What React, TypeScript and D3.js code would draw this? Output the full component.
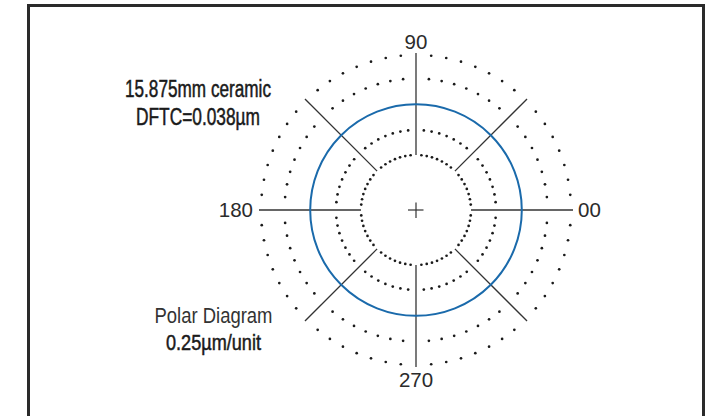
import React from "react";
import * as d3 from "d3";

// ---- data ----
const gridRings: number[] = [0, 1, 3, 4]; // dotted reference rings (units)
const traceValue: number = 2; // measured profile (units) – near-perfect circle
const spokeAngles: number[] = [0, 45, 90, 135, 180, 225, 270, 315];
const axisLabels: string[] = ["00", "90", "180", "270"];
const axisLabelAngles: number[] = [0, 90, 180, 270];
const titleLines: string[] = ["15.875mm ceramic", "DFTC=0.038µm"];
const scaleLines: string[] = ["Polar Diagram", "0.25µm/unit"];

const W = 715;
const H = 416;
const cx = 416;
const cy = 210;
const DOTS_PER_RING = 64;

const FONT = "'Liberation Sans Narrow', 'Arial Narrow', 'Liberation Sans', Arial, sans-serif";

export default function App() {
  const r = d3.scaleLinear().domain([0, 4]).range([55, 155]);
  const toRad = (deg: number) => (deg * Math.PI) / 180;
  const px = (deg: number, rad: number) => cx + rad * Math.cos(toRad(deg));
  const py = (deg: number, rad: number) => cy - rad * Math.sin(toRad(deg));

  const ringAdjust: Record<number, number> = { 0: 0, 1: 0, 3: 1.5, 4: 0 };

  const dots: { x: number; y: number; k: string }[] = [];
  gridRings.forEach((v) => {
    const rr = r(v) + (ringAdjust[v] || 0);
    d3.range(DOTS_PER_RING).forEach((i) => {
      if (i % 8 === 0) return; // skip where spokes pass
      const a = (i * 360) / DOTS_PER_RING;
      dots.push({ x: px(a, rr), y: py(a, rr), k: `${v}-${i}` });
    });
  });

  const labelPlacement: Record<number, { dx: number; dy: number; anchor: string }> = {
    0: { dx: 162, dy: 7, anchor: "start" },
    90: { dx: 0, dy: -161, anchor: "middle" },
    180: { dx: -163, dy: 7, anchor: "end" },
    270: { dx: 0, dy: 177, anchor: "middle" },
  };

  const titleWidths = [146, 124];
  const scaleWidths = [118, 95];

  return (
    <svg
      width={W}
      height={H}
      style={{ position: "absolute", left: 0, top: 0, background: "#fff" }}
    >
      <rect x={0} y={0} width={W} height={H} fill="#fff" />
      {/* frame */}
      <path
        d={`M28.5,${H + 5} L28.5,5.5 L703.5,5.5 L703.5,${H + 5}`}
        fill="none"
        stroke="#2a2a2a"
        strokeWidth={3}
      />

      {/* dotted rings */}
      {dots.map((d) => (
        <circle key={d.k} cx={d.x} cy={d.y} r={1.35} fill="#1a1a1a" />
      ))}

      {/* spokes */}
      {spokeAngles.map((a) => (
        <line
          key={a}
          x1={px(a, r(0))}
          y1={py(a, r(0))}
          x2={px(a, r(4) + 2)}
          y2={py(a, r(4) + 2)}
          stroke="#333"
          strokeWidth={1.3}
        />
      ))}

      {/* measured trace */}
      <circle
        cx={cx}
        cy={cy}
        r={r(traceValue) + 0.8}
        fill="none"
        stroke="#1a6aab"
        strokeWidth={2}
      />

      {/* centre cross */}
      <line x1={cx - 8} y1={cy} x2={cx + 7.5} y2={cy} stroke="#333" strokeWidth={1.2} />
      <line x1={cx} y1={cy - 7.5} x2={cx} y2={cy + 8} stroke="#333" strokeWidth={1.2} />

      {/* axis labels */}
      {axisLabels.map((t, i) => {
        const a = axisLabelAngles[i];
        const p = labelPlacement[a];
        return (
          <text
            key={t}
            x={cx + p.dx}
            y={cy + p.dy}
            textAnchor={p.anchor as any}
            fontFamily={FONT}
            fontSize={20.5}
            fill="#2b2b2b"
          >
            {t}
          </text>
        );
      })}

      {/* title */}
      {titleLines.map((t, i) => (
        <text
          key={t}
          x={198}
          y={97 + i * 28}
          textAnchor="middle"
          fontFamily={FONT}
          fontSize={23}
          fill="#1a1a1a"
          stroke="#1a1a1a"
          strokeWidth={0.5}
          textLength={titleWidths[i]}
          lengthAdjust="spacingAndGlyphs"
        >
          {t}
        </text>
      ))}

      {/* scale note */}
      {scaleLines.map((t, i) => (
        <text
          key={t}
          x={213.5}
          y={323 + i * 27}
          textAnchor="middle"
          fontFamily={FONT}
          fontSize={22.5}
          fill={i === 0 ? "#333" : "#1a1a1a"}
          stroke={i === 0 ? "none" : "#1a1a1a"}
          strokeWidth={i === 0 ? 0 : 0.5}
          textLength={scaleWidths[i]}
          lengthAdjust="spacingAndGlyphs"
        >
          {t}
        </text>
      ))}
    </svg>
  );
}
